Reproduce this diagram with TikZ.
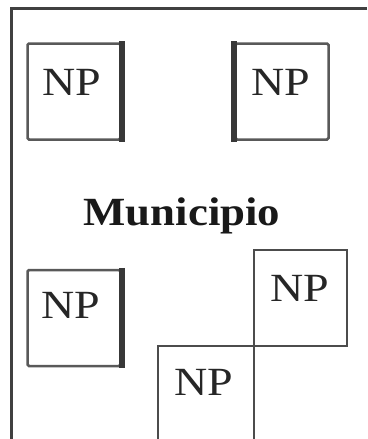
\documentclass[tikz,border=0pt]{standalone}
\usepackage{fontspec}
\setmainfont{Liberation Serif}
\begin{document}
\begin{tikzpicture}[x=1pt,y=-1pt,
  npbox/.style={draw=black!65, line width=2.5pt, rounded corners=1.5pt, minimum width=93pt, minimum height=96pt, inner sep=0pt},
  thickside/.style={draw=black!78, line width=6pt},
  sqbox/.style={draw=black!70, line width=2.5pt},
  frame/.style={draw=black!75, line width=3pt},
  nptext/.style={anchor=base, inner sep=0pt, font=\fontsize{40}{40}\selectfont, text=black!85},
  title/.style={anchor=base, inner sep=0pt, font=\fontsize{40}{40}\selectfont\bfseries, text=black!90}]
\useasboundingbox (0,0) rectangle (367,439);
% frame
\coordinate (tl) at (11,8);
\coordinate (tr) at (367,8);
\coordinate (bl) at (11,439);
\draw[frame] (tr) -- (tl) -- (bl);
% box 1
\node[npbox] (b1) at (74,91.5) {};
\draw[thickside] ([yshift=1pt]b1.north east) -- ([yshift=-1pt]b1.south east);
\node[nptext] (t1) at (72,95) {\scalebox{1.15}[1]{NP}};
% box 2
\node[npbox] (b2) at (282,91.5) {};
\draw[thickside] ([yshift=1pt]b2.north west) -- ([yshift=-1pt]b2.south west);
\node[nptext] (t2) at (281,95) {\scalebox{1.15}[1]{NP}};
% title
\node[title] (mun) at (182,225) {\scalebox{1.12}[1]{Municipio}};
% box 3
\node[npbox] (b3) at (74,318) {};
\draw[thickside] ([yshift=1pt]b3.north east) -- ([yshift=-1pt]b3.south east);
\node[nptext] (t3) at (71,318) {\scalebox{1.15}[1]{NP}};
% box 4
\node[sqbox, minimum width=93pt, minimum height=96pt, inner sep=0pt] (b4) at (300.5,298) {};
\node[nptext] (t4) at (300,301) {\scalebox{1.15}[1]{NP}};
% box 5 (open at bottom)
\coordinate (b5a) at (158,439);
\coordinate (b5b) at (158,346);
\coordinate (b5c) at (254,346);
\coordinate (b5d) at (254,439);
\draw[sqbox] (b5a) -- (b5b) -- (b5c) -- (b5d);
\node[nptext] (t5) at (204,395) {\scalebox{1.15}[1]{NP}};
\end{tikzpicture}
\end{document}
